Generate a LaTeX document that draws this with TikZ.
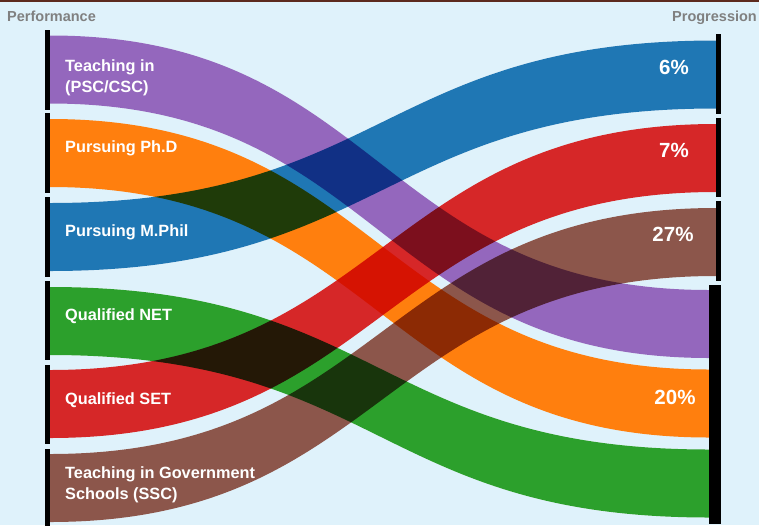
\documentclass[tikz,border=0pt]{standalone}
\usepackage{fontspec}
\setmainfont{Liberation Sans}
\definecolor{bgc}{RGB}{223,242,251}
\definecolor{topc}{RGB}{92,42,30}
\definecolor{cblue}{HTML}{1F77B4}
\definecolor{corange}{HTML}{FF7F0E}
\definecolor{cgreen}{HTML}{2CA02C}
\definecolor{cred}{HTML}{D62728}
\definecolor{cpurple}{HTML}{9467BD}
\definecolor{cbrown}{HTML}{8C564B}
\definecolor{headc}{RGB}{128,128,128}
\newcommand\bandshape[6]{%
  \fill[#1] (#2,#3-34) .. controls ({(#2+#4)/2},#3-34) and ({(#2+#4)/2},#5-34) .. (#4,#5-34)
    -- (#4,#5+34) .. controls ({(#2+#4)/2},#5+34) and ({(#2+#4)/2},#3+34) .. (#2,#3+34) -- cycle;}
\begin{document}
\begin{tikzpicture}[x=1pt,y=-1pt,
  bar/.style={fill=black,inner sep=0pt,outer sep=0pt,draw=none},
  leftlab/.style={anchor=west,align=left,text=white,font=\fontsize{16.3}{20.5}\selectfont\bfseries,inner sep=0pt},
  rightlab/.style={anchor=center,text=white,font=\fontsize{20.5}{22}\selectfont\bfseries,inner sep=0pt},
  head/.style={text=headc,font=\fontsize{14.5}{16}\selectfont\bfseries,inner sep=0pt}]
\useasboundingbox (0,0) rectangle (759,525);
\fill[bgc] (0,0) rectangle (759,525);
\fill[topc] (0,0) rectangle (759,1.5);
% bands: white underlay, then multiply
\foreach \xa/\ya/\xb/\yb in {50/69.5/709/324,50/153/709/403.5,50/237/716/74.5,50/321/709/483.5,50/404/716/158,50/488/716/242}{
  \bandshape{white}{\xa}{\ya}{\xb}{\yb}{}
}
\begin{scope}[blend mode=multiply]
\bandshape{cpurple}{50}{69.5}{709}{324}{}
\bandshape{corange}{50}{153}{709}{403.5}{}
\bandshape{cblue}{50}{237}{716}{74.5}{}
\bandshape{cgreen}{50}{321}{709}{483.5}{}
\bandshape{cred}{50}{404}{716}{158}{}
\bandshape{cbrown}{50}{488}{716}{242}{}
\end{scope}
% bars
\node[bar,minimum width=5pt,minimum height=80pt] (L1) at (47.5,70) {};
\node[bar,minimum width=5pt,minimum height=80pt] (L2) at (47.5,153) {};
\node[bar,minimum width=5pt,minimum height=80pt] (L3) at (47.5,237) {};
\node[bar,minimum width=5pt,minimum height=79pt] (L4) at (47.5,320.5) {};
\node[bar,minimum width=5pt,minimum height=79pt] (L5) at (47.5,404.5) {};
\node[bar,minimum width=5pt,minimum height=80pt] (L6) at (47.5,489) {};
\node[bar,minimum width=5pt,minimum height=80pt] (R1) at (718.5,74) {};
\node[bar,minimum width=5pt,minimum height=79pt] (R2) at (718.5,157.5) {};
\node[bar,minimum width=5pt,minimum height=80pt] (R3) at (718.5,241) {};
\node[bar,minimum width=12pt,minimum height=239pt] (R4) at (715,404.5) {};
% labels
\node[head,anchor=base west] (hp) at (7,21) {Performance};
\node[head,anchor=base east] (hg) at (757,21) {Progression};
\node[leftlab] (t1) at (65,78) {Teaching in\\(PSC/CSC)};
\node[leftlab] (t2) at (65,148) {Pursuing Ph.D};
\node[leftlab] (t3) at (65,232) {Pursuing M.Phil};
\node[leftlab] (t4) at (65,316) {Qualified NET};
\node[leftlab] (t5) at (65,400) {Qualified SET};
\node[leftlab] (t6) at (65,485) {Teaching in Government\\Schools (SSC)};
\node[rightlab] (p1) at (674,67) {6\%};
\node[rightlab] (p2) at (674,150) {7\%};
\node[rightlab] (p3) at (673,234) {27\%};
\node[rightlab] (p4) at (675,397) {20\%};
\end{tikzpicture}
\end{document}
